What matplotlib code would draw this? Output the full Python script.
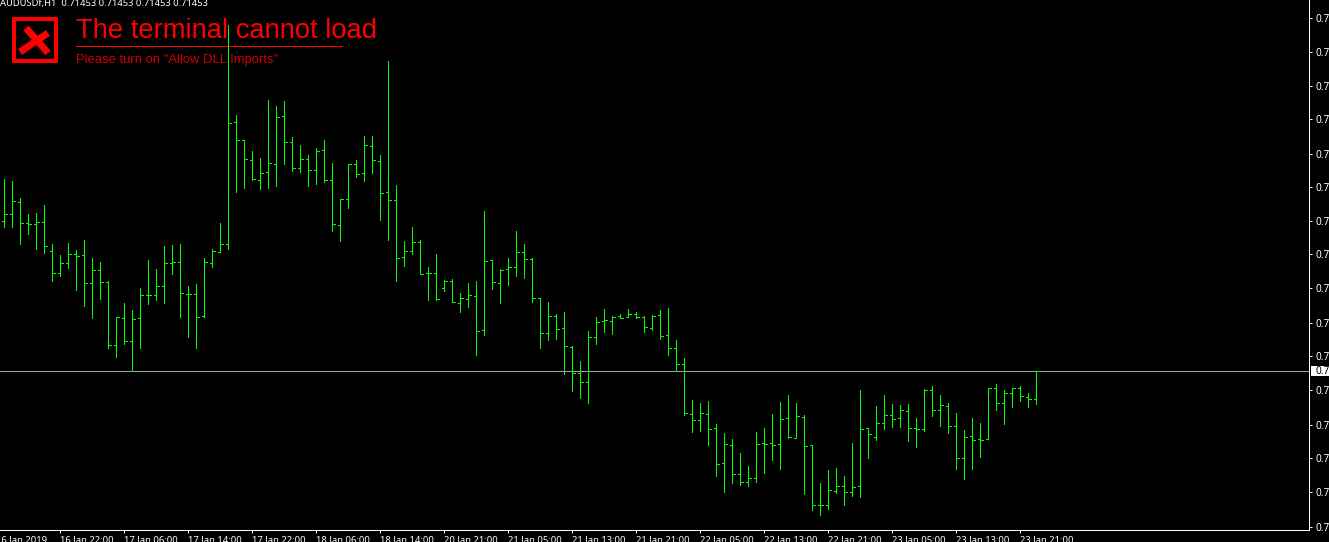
import numpy as np
import matplotlib
matplotlib.use("Agg")
import matplotlib.pyplot as plt
from matplotlib.patches import Rectangle

# prices in points (1 point = 0.00001)
high = [71837,71833,71799,71767,71769,71785,71707,71685,71709,71695,
71715,71679,71671,71633,71561,71589,71575,71619,71675,71657,
71703,71705,71707,71623,71627,71679,71697,71749,72145,71965,
71915,71893,71879,71995,71983,71993,71921,71905,71885,71899,
71915,71869,71797,71867,71875,71923,71923,71885,72073,71825,
71713,71741,71715,71661,71687,71635,71637,71609,71629,71633,
71773,71675,71657,71679,71733,71707,71679,71599,71591,71567,
71571,71503,71473,71533,71561,71577,71563,71567,71577,71571,
71563,71565,71575,71579,71515,71479,71395,71389,71393,71347,
71329,71317,71289,71263,71331,71339,71367,71391,71405,71389,
71365,71305,71229,71255,71259,71243,71309,71415,71339,71383,
71405,71387,71385,71387,71359,71417,71423,71405,71389,71369,
71335,71359,71349,71419,71427,71415,71419,71423,71409,71453]
low = [71741,71741,71707,71727,71697,71689,71633,71643,71659,71615,
71583,71559,71597,71499,71481,71507,71453,71499,71587,71595,
71589,71647,71561,71521,71499,71561,71661,71691,71697,71811,
71819,71835,71817,71819,71823,71867,71853,71851,71823,71827,
71831,71733,71713,71779,71841,71833,71849,71755,71715,71633,
71663,71687,71647,71595,71595,71613,71591,71571,71581,71485,
71525,71617,71589,71625,71643,71639,71591,71499,71515,71517,
71447,71413,71399,71389,71507,71531,71527,71559,71561,71559,
71531,71535,71517,71485,71453,71365,71331,71333,71305,71243,
71211,71229,71225,71223,71231,71249,71275,71257,71319,71319,
71207,71175,71165,71177,71209,71185,71203,71201,71279,71315,
71337,71341,71341,71313,71301,71333,71363,71343,71329,71257,
71237,71257,71281,71317,71375,71347,71381,71393,71381,71387]
open_ = [71753,71767,71791,71749,71747,71751,71693,71649,71669,71687,
71685,71629,71655,71631,71505,71559,71513,71559,71605,71605,
71623,71669,71671,71607,71607,71563,71669,71691,71707,71951,
71915,71875,71835,71851,71867,71963,71911,71859,71877,71855,
71895,71835,71745,71797,71867,71849,71903,71873,71811,71795,
71681,71693,71711,71649,71649,71619,71633,71589,71597,71603,
71535,71675,71629,71657,71661,71691,71677,71599,71529,71563,
71539,71501,71449,71431,71521,71553,71553,71563,71561,71567,
71561,71539,71565,71525,71499,71467,71367,71355,71367,71339,
71269,71305,71247,71231,71239,71309,71309,71307,71359,71319,
71361,71305,71185,71185,71213,71223,71211,71223,71339,71321,
71349,71365,71359,71373,71339,71337,71415,71375,71383,71343,
71279,71323,71317,71317,71419,71389,71409,71419,71401,71397]
close = [71767,71793,71749,71747,71751,71703,71649,71669,71687,71683,
71629,71655,71631,71505,71561,71513,71557,71605,71605,71623,
71669,71671,71609,71607,71561,71671,71693,71707,71949,71915,
71877,71837,71849,71869,71961,71911,71859,71877,71855,71893,
71835,71747,71797,71867,71847,71905,71875,71809,71795,71679,
71693,71711,71647,71649,71597,71633,71591,71599,71605,71533,
71673,71631,71655,71661,71691,71677,71599,71529,71563,71537,
71503,71449,71431,71521,71551,71555,71561,71559,71567,71561,
71541,71563,71523,71499,71467,71369,71355,71369,71337,71267,
71307,71247,71231,71239,71307,71307,71305,71357,71321,71363,
71303,71185,71185,71215,71223,71211,71221,71337,71327,71349,
71365,71357,71375,71339,71337,71415,71375,71385,71343,71279,
71321,71315,71315,71419,71389,71409,71419,71403,71397,71453]

last_price = 71453
price_ticks = [72159,72091,72023,71957,71887,71821,71753,71687,71619,71549,
               71483,71415,71345,71279,71211,71141]
first_date = "16 Jan 2019"
time_labels = ["16 Jan 22:00","17 Jan 06:00","17 Jan 14:00","17 Jan 22:00","18 Jan 06:00",
               "18 Jan 14:00","20 Jan 21:00","21 Jan 05:00","21 Jan 13:00","21 Jan 21:00",
               "22 Jan 05:00","22 Jan 13:00","22 Jan 21:00","23 Jan 05:00","23 Jan 13:00",
               "23 Jan 21:00"]
header = "AUDUSDf,H1  0.71453 0.71453 0.71453 0.71453"

W, H = 1329, 542
FONT = ["Noto Sans", "DejaVu Sans"]
ARIAL = ["Liberation Sans", "DejaVu Sans"]
px = 0.72  # one pixel in points at dpi 100

fig = plt.figure(figsize=(W / 100, H / 100), dpi=100, facecolor="black")
ax = fig.add_axes([0, 1 - 530 / H, 1309 / W, 530 / H], facecolor="black")

to_price = lambda p: np.asarray(p) / 1e5
hi, lo, op, cl = map(to_price, (high, low, open_, close))
idx = np.arange(len(hi))
bar_px = 8.0
ax.set_xlim(-4.25 / bar_px, (1309 - 4.25) / bar_px)
ax.set_ylim(71135.5 / 1e5, 72195.5 / 1e5)

# last price line (under the bars)
ax.axhline(last_price / 1e5, color="#A3A3A8", lw=px, zorder=1, antialiased=False)

GREEN = "#00FF00"
tick = 2.4 / bar_px
for k in idx:
    ax.plot([k, k], [lo[k], hi[k]], color=GREEN, lw=px, zorder=5, antialiased=False,
            solid_capstyle="projecting")
    ax.plot([k - tick, k], [op[k], op[k]], color=GREEN, lw=px, zorder=5, antialiased=False,
            solid_capstyle="butt")
    ax.plot([k, k + tick], [cl[k], cl[k]], color=GREEN, lw=px, zorder=5, antialiased=False,
            solid_capstyle="butt")

# axes frame
for s in ("top", "left"):
    ax.spines[s].set_visible(False)
for s in ("right", "bottom"):
    ax.spines[s].set_color("white")
    ax.spines[s].set_linewidth(px)

ax.yaxis.tick_right()
ax.set_yticks(to_price(price_ticks))
ax.set_yticklabels([f"{v / 1e5:.5f}" for v in price_ticks], family=FONT, fontsize=7.2, color="white")
ax.tick_params(axis="y", colors="white", length=2.4, width=px, pad=2.5)

xt = idx[7::8][:len(time_labels)]
ax.set_xticks(xt)
ax.set_xticklabels(time_labels, family=FONT, fontsize=6.8, color="white", ha="left")
ax.tick_params(axis="x", colors="white", length=2.4, width=px, pad=1.5)

# overlay in pixel coordinates for header, warning and labels outside the axes
ov = fig.add_axes([0, 0, 1, 1], facecolor="none")
ov.set_xlim(0, W)
ov.set_ylim(H, 0)
ov.axis("off")
ov.set_zorder(3)
ax.set_zorder(4)
ax.patch.set_alpha(0)

ov.text(-4, 535.5, first_date, family=FONT, fontsize=6.8, color="white", va="top", ha="left", clip_on=False)
ov.text(0, 3.5, header, family=FONT, fontsize=6.75, color="white", va="center", ha="left")

RED = "#FF0000"
ov.add_patch(Rectangle((14, 19), 42, 42, fill=False, ec=RED, lw=4 * px))
ov.plot([26, 48], [28, 53], color=RED, lw=7 * px, solid_capstyle="butt")
ov.plot([20, 48], [52, 33], color=RED, lw=7 * px, solid_capstyle="butt")
ov.text(76, 31.5, "The terminal cannot load", family=ARIAL, fontsize=19.7, color=RED, va="center", ha="left")
ov.plot([76, 342], [46.25, 46.25], color=RED, lw=px, antialiased=False)
ov.text(76, 60, 'Please turn on "Allow DLL Imports"', family=ARIAL, fontsize=9.35, color="#D00000", va="center", ha="left")

# current price box
ov.add_patch(Rectangle((1311, 366), 18, 10, fc="white", ec="none", zorder=5))
ov.text(1315, 371.3, f"{last_price / 1e5:.5f}", family=FONT, fontsize=7.2, color="black", va="center", ha="left", zorder=6)

fig.savefig("out.png", dpi=100, facecolor="black")
